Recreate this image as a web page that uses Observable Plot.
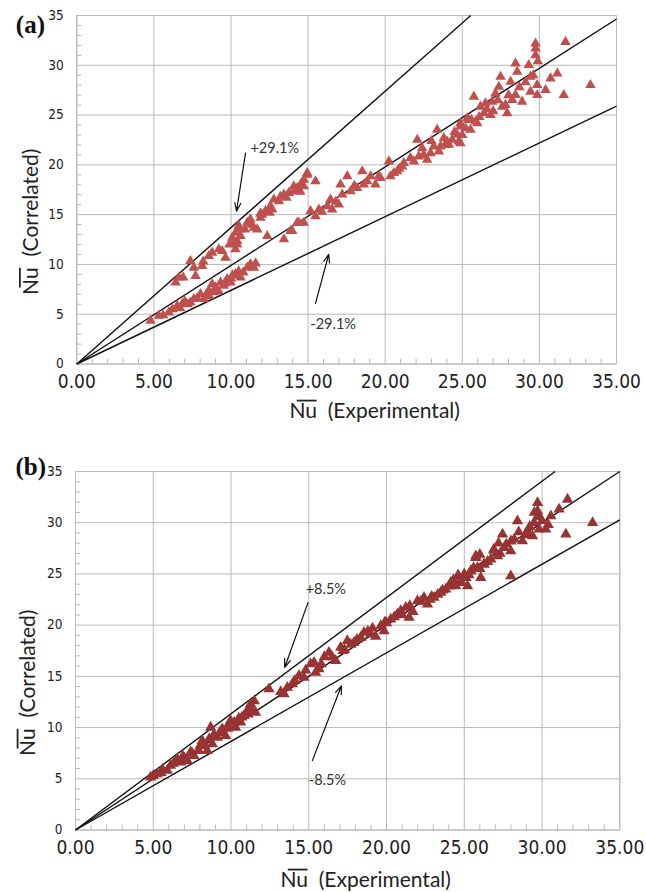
<!DOCTYPE html>
<html><head><meta charset="utf-8">
<script src="https://cdn.jsdelivr.net/npm/d3@7"></script>
<script src="https://cdn.jsdelivr.net/npm/@observablehq/plot@0.6"></script>
<style>
body{margin:0;background:#fff}
#chart svg{display:block}
</style>
</head><body><div id="chart"></div>
<script>
// ---------- data ----------
const X_TICKS = [0, 5, 10, 15, 20, 25, 30, 35];
const Y_TICKS = [0, 5, 10, 15, 20, 25, 30, 35];
const MINOR_TICKS = [1,2,3,4,6,7,8,9,11,12,13,14,16,17,18,19,21,22,23,24,26,27,28,29,31,32,33,34];

// Panel (a): experimental vs correlated Nu
const aX = [
 4.78,5.32,5.97,6.51,6.83,7.37,7.59,8.02,8.24,8.56,8.78,9.0,9.32,9.53,9.75,9.97,10.29,10.62,11.05,11.48,11.26,6.2,7.0,8.4,9.2,10.0,10.8,
 5.6,6.7,7.8,8.9,9.6,10.1,10.5,11.3,11.6,7.2,8.6,
 6.41,6.62,7.37,7.59,7.70,8.13,8.56,8.78,9.21,9.43,9.64,10.08,10.29,10.40,10.29,10.62,11.05,11.26,11.48,11.70,11.91,12.24,12.56,12.78,12.67,13.10,13.43,13.75,14.07,14.29,14.51,14.72,14.94,14.29,14.72,14.94,15.48,14.07,10.4,10.5,12.0,13.2,
 6.9,8.2,9.9,10.2,10.5,10.9,11.3,11.9,12.5,13.6,14.5,
 12.35,13.43,13.86,14.29,14.72,13.97,14.40,15.16,15.48,15.70,16.24,16.45,16.56,16.99,17.10,17.21,17.54,17.75,18.18,18.51,18.61,18.83,19.05,19.37,19.70,20.24,20.34,20.56,20.78,21.10,21.21,21.64,21.86,22.08,22.18,22.40,22.72,22.94,23.15,23.37,23.48,23.80,24.13,24.34,24.67,24.88,24.88,25.21,25.42,
 15.9,16.8,18.0,19.6,20.9,22.5,23.0,23.9,24.5,25.0,25.6,26.1,26.6,27.0,27.3,28.0,28.7,29.1,29.6,29.9,
 23.59,24.02,24.77,24.88,25.32,25.53,25.75,25.97,26.18,26.40,26.50,26.83,26.94,27.15,27.37,27.48,27.59,27.80,27.91,28.13,28.24,28.45,28.45,28.56,28.88,29.31,29.42,29.42,29.75,29.75,29.75,29.86,29.86,30.40,30.72,31.16,31.58,31.69,33.31,25.86
];
const aY = [
 4.35,4.85,5.18,5.85,6.02,6.18,6.52,7.02,6.52,7.35,8.02,7.68,8.18,7.85,8.52,8.18,9.02,8.68,9.68,9.68,10.02,5.5,6.3,7.0,7.3,8.6,9.2,
 4.9,5.6,6.6,7.2,8.1,8.9,9.3,9.9,10.1,6.0,6.8,
 8.18,8.68,10.35,9.68,8.85,9.85,10.85,11.18,11.52,11.35,10.68,12.68,13.18,12.35,11.52,12.85,14.18,14.52,13.68,13.52,14.68,15.35,15.85,16.52,15.52,16.35,17.02,17.18,17.35,17.68,18.02,18.52,19.02,17.35,17.85,19.18,18.35,17.85,12.0,13.5,15.0,16.8,
 8.7,10.3,12.0,12.2,13.9,13.5,14.0,15.1,15.2,16.7,17.3,
 12.85,12.52,13.35,14.18,14.18,13.35,14.18,15.35,14.85,15.52,15.85,16.52,15.52,16.02,18.02,17.02,18.85,17.35,17.68,19.35,18.02,18.35,18.85,18.02,18.68,20.35,18.85,19.18,19.35,19.85,20.18,20.68,20.35,22.52,20.85,21.68,20.52,21.18,21.85,23.52,21.35,22.68,22.02,22.52,23.02,22.18,24.18,23.68,24.52,
 15.3,16.3,17.9,18.9,19.6,21.0,22.4,22.0,23.3,23.0,24.5,24.8,25.6,25.4,26.5,27.0,27.8,28.3,29.0,30.4,
 21.85,22.35,22.35,23.85,24.68,23.52,26.85,24.18,25.85,25.18,26.18,25.02,26.35,27.18,27.85,28.85,25.85,26.02,25.18,28.35,26.52,27.02,30.18,29.35,26.35,30.02,28.85,27.35,32.18,31.68,31.02,27.02,28.02,27.52,28.68,29.18,27.02,32.35,28.02,24.35
];

// Panel (b)
const bX = [
 4.83,5.26,5.90,6.11,6.54,6.76,7.19,7.61,7.93,8.15,8.47,8.69,8.80,9.12,9.44,9.65,9.97,10.30,10.62,10.83,11.05,11.26,11.58,12.44,13.41,13.62,13.94,14.37,14.69,15.12,15.44,
 5.6,6.9,7.4,8.0,8.6,9.3,9.8,10.5,11.1,
 5.0,5.5,6.3,7.0,7.5,8.3,8.9,9.3,9.8,10.2,10.7,11.3,11.5,11.2,13.2,14.1,14.8,
 15.34,15.66,16.30,16.73,17.05,17.48,17.91,18.34,18.55,18.98,19.63,19.84,20.27,20.70,20.91,21.24,21.45,21.99,22.41,22.63,23.06,23.49,23.81,24.13,24.45,24.77,25.10,25.42,25.74,25.85,26.27,
 16.0,17.3,18.8,19.3,20.0,21.7,22.9,23.3,24.6,
 15.8,16.5,17.2,17.7,18.1,19.1,19.9,20.5,21.0,21.5,22.2,22.8,23.6,24.0,24.3,25.0,25.3,25.6,26.0,26.5,
 24.77,25.21,25.42,25.74,26.06,26.27,26.71,27.14,27.46,27.56,27.99,27.99,28.21,28.42,28.74,29.07,29.39,29.49,29.71,29.71,29.81,30.24,30.57,31.10,31.53,31.64,33.25,29.71,26.9,
 26.9,27.3,27.7,28.0,28.5,28.9,29.2,29.5,29.8,30.0,30.4,27.2,26.0
];
const bY = [
 5.15,5.47,5.80,6.29,6.94,6.61,6.77,7.26,7.75,8.72,7.75,10.02,8.40,9.04,9.86,9.21,10.67,10.02,10.51,11.16,11.65,12.30,11.48,13.76,13.27,13.92,14.25,15.06,14.89,16.20,15.38,
 5.9,7.2,7.6,8.2,8.9,9.5,10.2,10.9,11.3,
 5.3,5.6,6.5,7.0,7.5,8.3,9.3,9.6,9.9,10.5,11.0,11.8,12.6,12.0,13.5,14.6,15.6,
 16.35,15.71,17.33,16.52,17.82,18.47,18.30,18.79,19.28,19.12,19.93,19.44,20.58,21.07,21.39,21.72,20.74,22.37,22.69,22.05,22.69,23.18,23.51,24.15,23.83,24.32,24.64,25.29,26.75,25.61,25.94,
 16.9,17.6,19.4,18.9,20.2,21.3,22.8,23.0,24.9,
 16.2,16.9,17.5,18.1,18.6,19.7,20.3,20.8,21.0,21.9,22.3,22.5,23.4,23.8,24.4,25.0,24.9,25.6,25.5,26.2,
 24.15,23.83,25.29,26.59,24.64,25.94,26.43,26.75,28.87,27.56,24.80,27.24,28.38,30.17,28.22,29.03,28.70,30.00,31.95,31.14,29.36,29.36,30.65,31.31,28.87,32.28,30.00,30.6,27.3,
 27.4,27.0,27.9,28.2,29.1,28.8,29.6,31.0,30.6,30.2,29.8,28.0,26.9
];

// reference lines (slopes of y = k x) and annotations
const aSlopes = [1.37, 0.99, 0.74];
const bSlopes = [1.135, 1.0, 0.865];
const aNoteText = ["+29.1%", "-29.1%"];
const aNoteX = [11.26, 15.14];
const aNoteY = [21.65, 4.0];
const aArrow = [[10.94, 21.18, 10.36, 15.35], [15.48, 6.08, 16.34, 11.02]];
const bNoteText = ["+8.5%", "-8.5%"];
const bNoteX = [14.8, 15.0];
const bNoteY = [23.54, 4.82];
const bArrow = [[14.95, 22.2, 13.45, 15.87], [15.23, 6.77, 17.1, 14.08]];
const X_TITLE = "Nu\u00a0\u00a0(Experimental)";
const Y_TITLE = "Nu\u00a0\u00a0(Correlated)";

// ---------- drawing ----------
const GRID = "#b9b9b9";
const TICKFONT = "'Liberation Sans Narrow','DejaVu Sans Condensed',sans-serif";
const LABFONT = "Lato,'Open Sans',sans-serif";
const TITLE_SIZE = 21;

function panel(cfg) {
  const pts = cfg.xs.map((x, i) => ({x, y: cfg.ys[i]}));
  const links = cfg.slopes.map(k => ({x1: 0, y1: 0, x2: Math.min(35, 35 / k), y2: Math.min(35, 35 * k)}));
  const notes = cfg.noteText.map((t, i) => ({t, x: cfg.noteX[i], y: cfg.noteY[i]}));
  const arrows = cfg.arrows.map(a => ({x1: a[0], y1: a[1], x2: a[2], y2: a[3]}));
  return Plot.plot({
    width: 646, height: cfg.height,
    marginTop: cfg.mt, marginBottom: cfg.mb, marginLeft: cfg.ml, marginRight: cfg.mr,
    x: {domain: [0, 35]}, y: {domain: [0, 35]},
    style: {background: "white", color: "#222", overflow: "visible"},
    marks: [
      Plot.gridX(X_TICKS, {stroke: GRID, strokeOpacity: 1, strokeWidth: 1}),
      Plot.gridY(Y_TICKS, {stroke: GRID, strokeOpacity: 1, strokeWidth: 1}),
      Plot.ruleY(MINOR_TICKS, {x1: 0, x2: 0.33, stroke: GRID}),
      Plot.ruleX(MINOR_TICKS, {y1: 0, y2: 0.5, stroke: GRID}),
      Plot.frame({stroke: GRID}),
      Plot.axisX({ticks: X_TICKS, tickSize: 0, tickPadding: 10, tickFormat: d => d.toFixed(2), label: null, fontSize: 19, fontFamily: TICKFONT, fill: "#222"}),
      Plot.axisY({ticks: Y_TICKS, tickSize: 0, tickPadding: 13, tickFormat: d => String(d), label: null, fontSize: 13.5, fontFamily: TICKFONT, fill: "#222"}),
      Plot.link(links, {x1: "x1", y1: "y1", x2: "x2", y2: "y2", stroke: "#111", strokeWidth: 1.4}),
      Plot.dot(pts, {x: "x", y: "y", symbol: "triangle", r: cfg.r, fill: cfg.color, stroke: "none"}),
      Plot.arrow(arrows, {x1: "x1", y1: "y1", x2: "x2", y2: "y2", stroke: "#111", strokeWidth: 1.2, headLength: 11, headAngle: 40}),
      Plot.text(notes, {x: "x", y: "y", text: "t", textAnchor: "start", fontSize: 14.5, fontFamily: LABFONT, fill: "#333"}),
      Plot.text([cfg.label], {frameAnchor: "top-left", text: d => d, dx: cfg.labDx, dy: cfg.labDy, textAnchor: "start", lineAnchor: "middle",
        fontSize: 25, fontWeight: "bold", fontFamily: "'Liberation Serif','DejaVu Serif',serif", fill: "#111"}),
      Plot.text([X_TITLE], {frameAnchor: "bottom", text: d => d, dx: cfg.xtDx, dy: cfg.xtDy, textAnchor: "middle", lineAnchor: "middle",
        fontSize: TITLE_SIZE, fontFamily: LABFONT, fill: "#222"}),
      Plot.text([Y_TITLE], {frameAnchor: "left", text: d => d, rotate: -90, dx: cfg.ytDx, dy: cfg.ytDy, textAnchor: "middle", lineAnchor: "middle",
        fontSize: TITLE_SIZE, fontFamily: LABFONT, fill: "#222"})
    ]
  });
}

// bar over "Nu" in the axis titles (drawn from the rendered glyph positions)
function addOverlines(svg) {
  Array.from(svg.querySelectorAll("text"))
    .filter(t => t.textContent === X_TITLE || t.textContent === Y_TITLE)
    .forEach(t => {
      const s = t.getStartPositionOfChar(0), e = t.getEndPositionOfChar(1);
      const y = s.y - TITLE_SIZE * 0.84;
      const ln = document.createElementNS("http://www.w3.org/2000/svg", "line");
      ln.setAttribute("x1", s.x + TITLE_SIZE * 0.35);
      ln.setAttribute("x2", e.x - TITLE_SIZE * 0.02);
      ln.setAttribute("y1", y);
      ln.setAttribute("y2", y);
      ln.setAttribute("stroke", "#222");
      ln.setAttribute("stroke-width", "1.8");
      const tr = t.getAttribute("transform");
      if (tr) ln.setAttribute("transform", tr);
      t.parentNode.insertBefore(ln, t.nextSibling);
    });
}

const root = document.getElementById("chart");
const svgA = panel({
  xs: aX, ys: aY, color: "#C0504D", slopes: aSlopes, r: 3.9,
  noteText: aNoteText, noteX: aNoteX, noteY: aNoteY, arrows: aArrow,
  label: "(a)", height: 430, mt: 15, mb: 66.5, ml: 76.3, mr: 30,
  labDx: -61, labDy: 9, xtDx: 28, xtDy: 47.5, ytDx: -46, ytDy: 32
});
const svgB = panel({
  xs: bX, ys: bY, color: "#973433", slopes: bSlopes, r: 4.2,
  noteText: bNoteText, noteX: bNoteX, noteY: bNoteY, arrows: bArrow,
  label: "(b)", height: 462, mt: 41, mb: 62.5, ml: 75, mr: 26.7,
  labDx: -60, labDy: -5, xtDx: 18, xtDy: 50.5, ytDx: -47, ytDy: 32
});
root.appendChild(svgA);
root.appendChild(svgB);
addOverlines(svgA);
addOverlines(svgB);
</script></body></html>
